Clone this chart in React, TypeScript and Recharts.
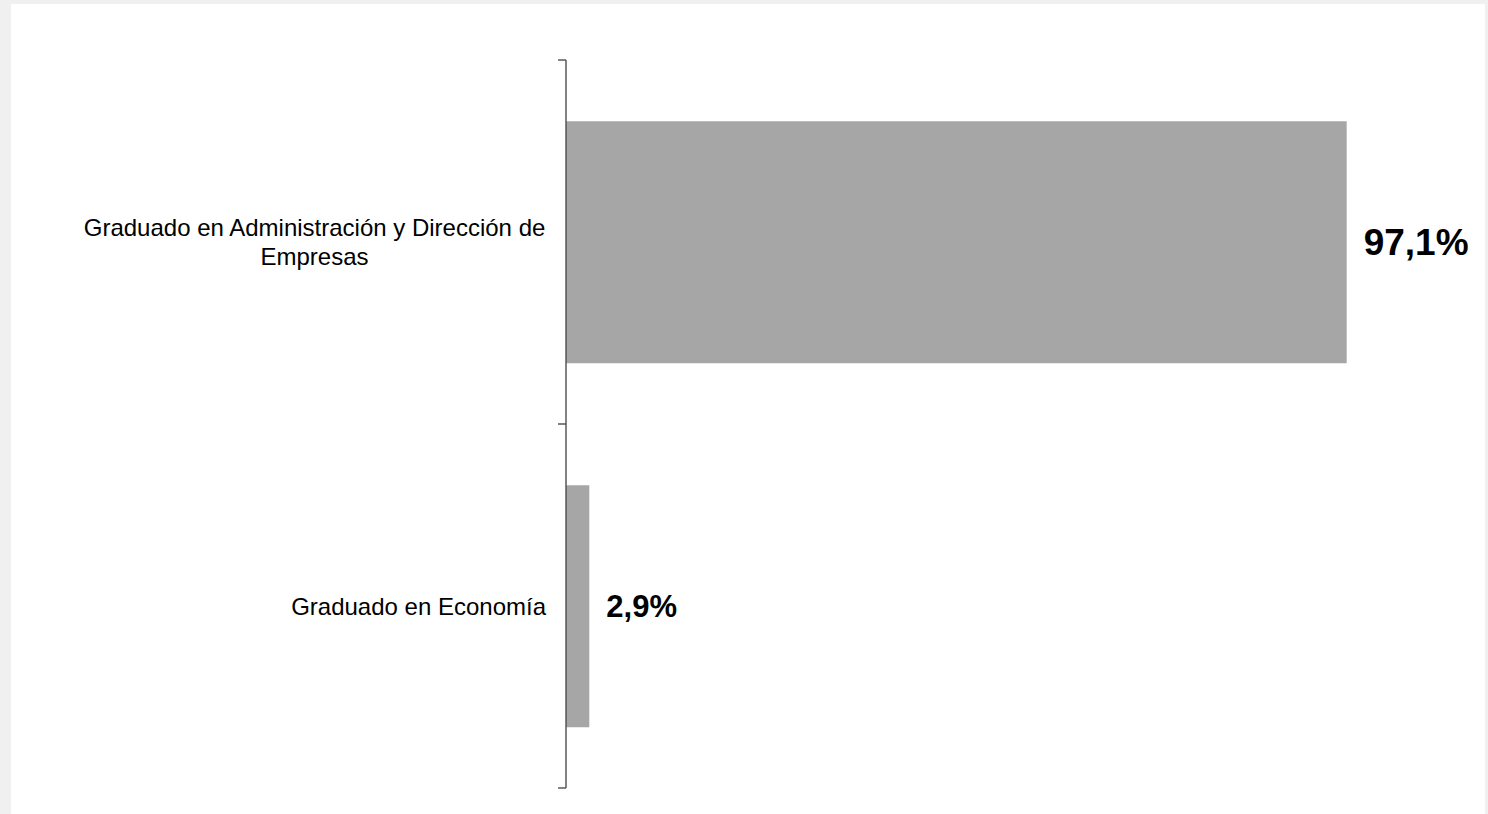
import React from 'react';
import { BarChart, Bar, XAxis, YAxis, LabelList } from 'recharts';

// ── Data ──────────────────────────────────────────────────────────────────────

const categories = [
    'Graduado en Administración y Dirección de Empresas',
    'Graduado en Economía',
];
const shares = [97.1, 2.9];

const data = categories.map((name, i) => ({ name, value: shares[i] }));

// ── Style ─────────────────────────────────────────────────────────────────────

const FONT = "'Liberation Sans', Arial, sans-serif";
const CAT_SIZE = 24;
const LABEL_SIZES = [37, 31];
const WRAP_WIDTH = 470;
const AXIS = '#4d4d4d';

let ctx: CanvasRenderingContext2D | null = null;
function measure(text: string) {
    if (!ctx) ctx = document.createElement('canvas').getContext('2d');
    if (!ctx) return text.length * CAT_SIZE * 0.5;
    ctx.font = `${CAT_SIZE}px ${FONT}`;
    return ctx.measureText(text).width;
}

function wrap(text: string) {
    const words = text.split(' ');
    const lines: string[] = [];
    let cur = '';
    for (const w of words) {
        const next = cur ? cur + ' ' + w : w;
        if (cur && measure(next) > WRAP_WIDTH) {
            lines.push(cur);
            cur = w;
        } else {
            cur = next;
        }
    }
    if (cur) lines.push(cur);
    return lines;
}

// ── Ticks ─────────────────────────────────────────────────────────────────────

function CategoryTick({ x, y, payload, index }: any) {
    const half = payload?.offset ?? 182;
    const lines = wrap(String(payload.value));
    const widest = Math.max(...lines.map(measure));
    const cx = x - 20 - widest / 2;
    const lh = 29;
    const y0 = y - ((lines.length - 1) * lh) / 2;
    return (
        <g>
            <line x1={x - 8} x2={x} y1={y - half} y2={y - half} stroke={AXIS} strokeWidth={1.4} />
            {index === data.length - 1 && (
                <line x1={x - 8} x2={x} y1={y + half} y2={y + half} stroke={AXIS} strokeWidth={1.4} />
            )}
            {lines.map((l, i) => (
                <text
                    key={i}
                    x={cx}
                    y={y0 + i * lh}
                    textAnchor="middle"
                    dominantBaseline="central"
                    fontFamily={FONT}
                    fontSize={CAT_SIZE}
                    fill="#000"
                >
                    {l}
                </text>
            ))}
        </g>
    );
}

function ValueLabel({ x, y, width, height, value, index }: any) {
    return (
        <text
            x={x + width + 17}
            y={y + height / 2}
            dominantBaseline="central"
            fontFamily={FONT}
            fontWeight="bold"
            fontSize={LABEL_SIZES[index] ?? 30}
            fill="#000"
        >
            {Number(value).toFixed(1).replace('.', ',')}%
        </text>
    );
}

// ── Component ─────────────────────────────────────────────────────────────────

export default function App() {
    return (
        <div style={{ position: 'absolute', left: 0, top: 0, width: 1488, height: 814, background: '#f0f0f0', overflow: 'hidden' }}>
            <div style={{ position: 'absolute', left: 11, top: 4, width: 1474, height: 820, background: '#fff' }} />
            <div style={{ position: 'absolute', left: 0, top: 0 }}>
                <BarChart
                    width={1488}
                    height={814}
                    data={data}
                    layout="vertical"
                    margin={{ top: 60, right: 118, bottom: 26, left: 0 }}
                    barCategoryGap="16.8%"
                >
                    <XAxis type="number" domain={[0, 100]} hide />
                    <YAxis
                        type="category"
                        dataKey="name"
                        width={566}
                        tickSize={0}
                        tickMargin={0}
                        tickLine={false}
                        axisLine={{ stroke: AXIS, strokeWidth: 1.4 }}
                        tick={<CategoryTick />}
                        interval={0}
                    />
                    <Bar dataKey="value" fill="#a6a6a6" isAnimationActive={false}>
                        <LabelList dataKey="value" content={<ValueLabel />} />
                    </Bar>
                </BarChart>
            </div>
        </div>
    );
}
